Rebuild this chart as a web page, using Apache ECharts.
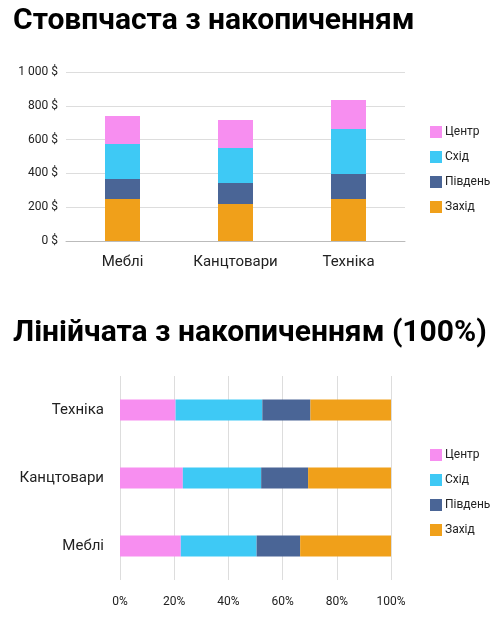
<!DOCTYPE html><html><head><meta charset="utf-8"><script src="https://cdn.jsdelivr.net/npm/echarts@6/dist/echarts.min.js"></script>
<style>body{margin:0}#c{width:493px;height:625px}</style></head><body><div id="c"></div><script>
const categories=['Меблі','Канцтовари','Техніка'];
const zahid=[248,219,248];
const pivden=[119,124,148];
const skhid=[207,207,267];
const tsentr=[166,166,171];
const yTicks=[0,200,400,600,800,1000];
const totals=categories.map((c,i)=>zahid[i]+pivden[i]+skhid[i]+tsentr[i]);
const pct=a=>a.map((v,i)=>v/totals[i]*100);
const col={c:'#f78ef0',s:'#3ec9f5',p:'#4a6596',z:'#f0a01a'};
const F='Roboto';
const fmt=v=>(v>=1000?String(v).replace(/\B(?=(\d{3})+$)/g,' '):v)+' $';
const ch=echarts.init(document.getElementById('c'));
const sty={fontFamily:F,color:'#222'};
function bars(name,data,color,ax,w){return {name,type:'bar',stack:'s'+ax,data,xAxisIndex:ax,yAxisIndex:ax,barWidth:w,itemStyle:{color}};}
const leg={orient:'vertical',left:425,itemGap:13,itemWidth:12,itemHeight:12,icon:'rect',textStyle:{fontFamily:F,fontSize:12,color:'#222',padding:[0,0,0,-2]},data:['Центр','Схід','Південь','Захід']};
ch.setOption({
 animation:false,textStyle:{fontFamily:F},
 title:[{text:'Стовпчаста з накопиченням',left:8,top:1,textStyle:{fontFamily:F,fontSize:30,fontWeight:'bold',color:'#000'}},
        {text:'Лінійчата з накопиченням (100%)',left:8,top:313,textStyle:{fontFamily:F,fontSize:30,fontWeight:'bold',color:'#000'}}],
 legend:[{...leg,top:121},{...leg,top:444}],
 grid:[{left:66,right:88,top:72,height:169},{left:120,width:271,top:376,height:204}],
 xAxis:[{gridIndex:0,type:'category',data:categories,axisTick:{show:false},axisLine:{lineStyle:{color:'#bbb'}},axisLabel:{...sty,fontSize:15,margin:14}},
        {gridIndex:1,type:'value',min:0,max:100,interval:20,axisLabel:{...sty,fontSize:12,margin:16,formatter:'{value}%'},splitLine:{lineStyle:{color:'#ddd'}}}],
 yAxis:[{gridIndex:0,type:'value',min:0,max:1000,interval:200,axisLabel:{...sty,fontSize:12,formatter:fmt},splitLine:{lineStyle:{color:'#ddd'}}},
        {gridIndex:1,type:'category',data:categories,axisLine:{show:false},axisTick:{show:false},axisLabel:{...sty,fontSize:15,margin:16}}],
 series:[bars('Захід',zahid,col.z,0,35),bars('Південь',pivden,col.p,0,35),bars('Схід',skhid,col.s,0,35),bars('Центр',tsentr,col.c,0,35),
   bars('Центр',pct(tsentr),col.c,1,21),bars('Схід',pct(skhid),col.s,1,21),bars('Південь',pct(pivden),col.p,1,21),bars('Захід',pct(zahid),col.z,1,21)]
});
</script></body></html>
